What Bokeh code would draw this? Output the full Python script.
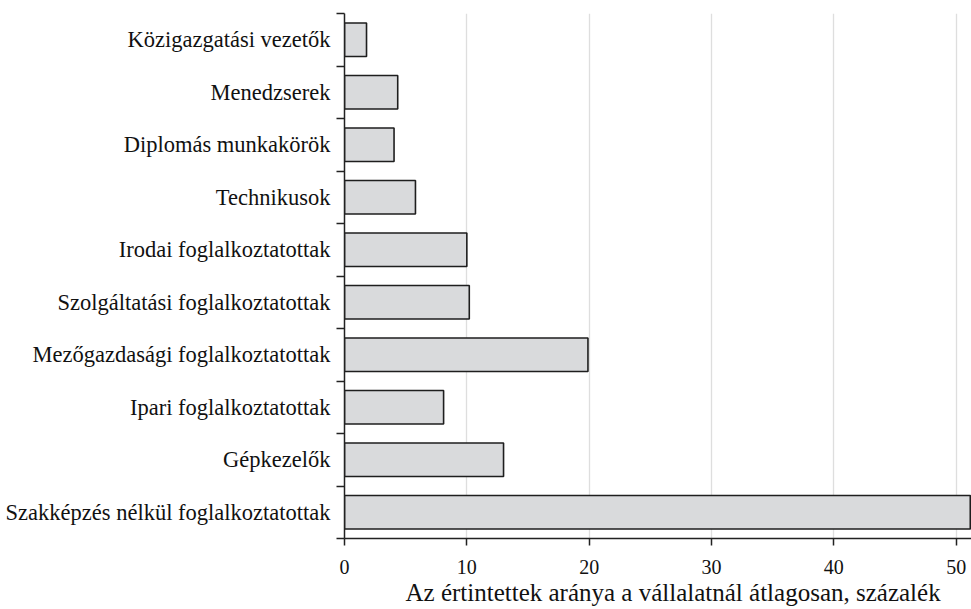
from bokeh.plotting import figure
from bokeh.models import FixedTicker, ColumnDataSource, Range1d, Title
from bokeh.embed import file_html
from bokeh.resources import INLINE

# Data (top to bottom as in the chart)
categories = [
    "Közigazgatási vezetők",
    "Menedzserek",
    "Diplomás munkakörök",
    "Technikusok",
    "Irodai foglalkoztatottak",
    "Szolgáltatási foglalkoztatottak",
    "Mezőgazdasági foglalkoztatottak",
    "Ipari foglalkoztatottak",
    "Gépkezelők",
    "Szakképzés nélkül foglalkoztatottak",
]
values = [1.8, 4.35, 4.05, 5.8, 10.0, 10.2, 19.9, 8.1, 13.0, 51.15]
x_ticks = [0, 10, 20, 30, 40, 50]
x_title = "Az értintettek aránya a vállalatnál átlagosan, százalék"

n = len(categories)
ypos = [n - 1 - i + 0.5 for i in range(n)]
src = ColumnDataSource(dict(y=ypos, right=values, cat=categories))

FONT = "Liberation Serif"

p = figure(width=971, height=609, output_backend="svg", toolbar_location=None,
           x_range=Range1d(0, 51.25), y_range=Range1d(0, n),
           min_border_left=344, min_border_right=0, min_border_top=13,
           min_border_bottom=71)
p.outline_line_color = None
p.background_fill_color = "white"
p.border_fill_color = "white"

p.hbar(y="y", left=0, right="right", height=0.64, source=src,
       fill_color="#d9dadc", line_color="#1e1e1e", line_width=1.6)

# x axis
p.xaxis.ticker = FixedTicker(ticks=x_ticks)
p.xaxis.axis_line_color = "#222222"
p.xaxis.axis_line_width = 1.5
p.xaxis.major_tick_out = 7
p.xaxis.major_tick_in = 0
p.xaxis.major_tick_line_color = "#222222"
p.xaxis.major_tick_line_width = 1.5
p.xaxis.minor_tick_line_color = None
p.xaxis.major_label_text_font = FONT
p.xaxis.major_label_text_font_size = "20px"
p.xaxis.major_label_text_color = "#111111"
p.xaxis.major_label_standoff = 14

# axis title, placed as a title below the axis
t = Title(text=x_title, align="left", offset=61, standoff=0,
          text_font=FONT, text_font_size="25px", text_font_style="normal",
          text_color="#111111")
p.add_layout(t, "below")

# y axis: labels at band centres, ticks at band boundaries
p.yaxis.ticker = FixedTicker(ticks=ypos, minor_ticks=list(range(n + 1)))
p.yaxis.major_label_overrides = {y: c for y, c in zip(ypos, categories)}
p.yaxis.axis_line_color = "#222222"
p.yaxis.axis_line_width = 1.5
p.yaxis.major_tick_line_color = None
p.yaxis.major_tick_out = 0
p.yaxis.major_tick_in = 0
p.yaxis.minor_tick_line_color = "#222222"
p.yaxis.minor_tick_line_width = 1.5
p.yaxis.minor_tick_out = 8
p.yaxis.minor_tick_in = 0
p.yaxis.major_label_standoff = 6
p.yaxis.major_label_text_font = FONT
p.yaxis.major_label_text_font_size = "22.5px"
p.yaxis.major_label_text_color = "#111111"

p.xgrid.grid_line_color = "#dedede"
p.xgrid.grid_line_width = 1.3
p.ygrid.grid_line_color = None

open("out.html", "w").write(file_html(p, INLINE))
